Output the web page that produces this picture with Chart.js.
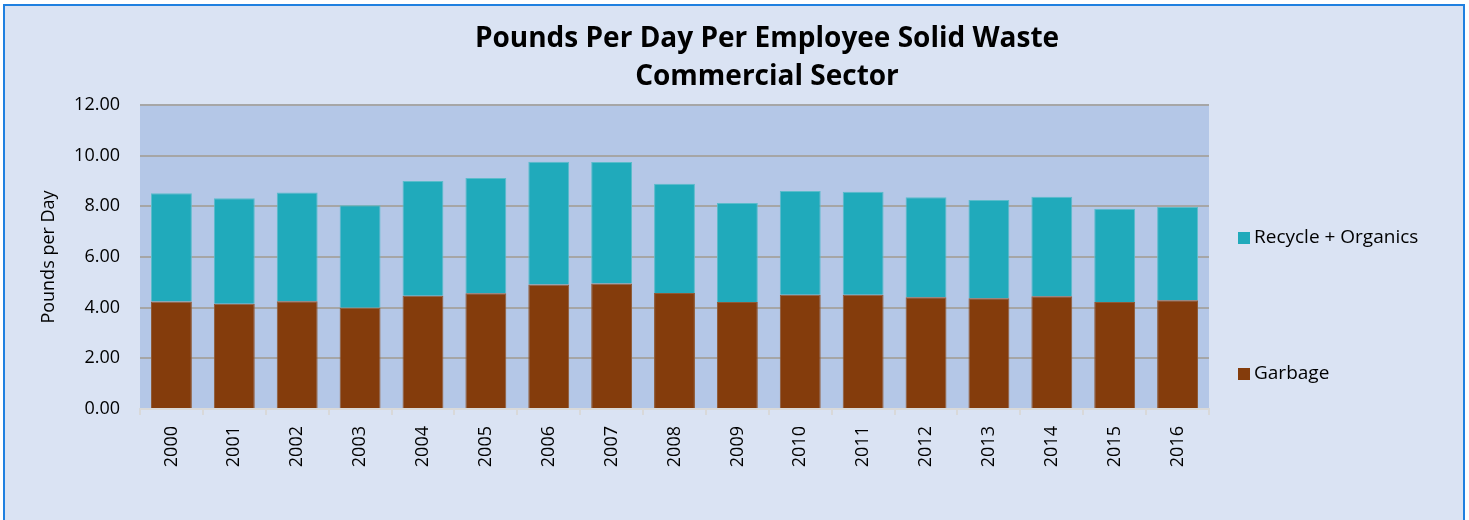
<!DOCTYPE html>
<html>
<head>
<meta charset="utf-8">
<script src="https://cdn.jsdelivr.net/npm/chart.js@4"></script>
<style>
    html, body { margin: 0; padding: 0; background: #ffffff; }
    #frame {
        position: absolute; left: 3px; top: 4px;
        width: 1458px; height: 520px;
        border: 2px solid #1f80e0; border-bottom: none;
        background: #dae3f3;
    }
    #frame canvas { display: block; }
</style>
</head>
<body>
<div id="frame"><canvas id="wasteChart" width="1458" height="520"></canvas></div>
<script>
// Chart data
const years = ['2000', '2001', '2002', '2003', '2004', '2005', '2006', '2007', '2008',
    '2009', '2010', '2011', '2012', '2013', '2014', '2015', '2016'];
const garbage = [4.24, 4.15, 4.25, 4.00, 4.47, 4.57, 4.91, 4.95, 4.58,
    4.22, 4.51, 4.51, 4.41, 4.37, 4.45, 4.22, 4.29];
const recycleOrganics = [4.28, 4.17, 4.30, 4.04, 4.53, 4.55, 4.85, 4.80, 4.31,
    3.91, 4.10, 4.07, 3.95, 3.88, 3.93, 3.68, 3.68];
const yTicks = [0, 2, 4, 6, 8, 10, 12];
const titleLines = ['Pounds Per Day Per Employee Solid Waste', 'Commercial Sector'];

const FONT = "'Open Sans', sans-serif";

// Plot background + title + legend drawn by hand to match the Excel layout
const excelLook = {
    id: 'excelLook',
    beforeDraw(chart) {
        const { ctx, chartArea } = chart;
        ctx.save();
        ctx.fillStyle = '#b4c7e7';
        ctx.fillRect(chartArea.left, chartArea.top, chartArea.right - chartArea.left, chartArea.bottom - chartArea.top);
        ctx.restore();
    },
    afterDraw(chart) {
        const { ctx } = chart;
        ctx.save();
        // title
        ctx.fillStyle = '#000000';
        ctx.textAlign = 'center';
        ctx.textBaseline = 'middle';
        ctx.font = `bold 28px ${FONT}`;
        const cx = chart.width / 2 + 33;
        titleLines.forEach((line, i) => ctx.fillText(line, cx, 33 + i * 38));

        // legend (series order reversed, like Excel)
        const legendY = [232, 368];
        const items = chart.data.datasets.slice().reverse();
        ctx.textAlign = 'left';
        ctx.font = `19px ${FONT}`;
        items.forEach((ds, i) => {
            ctx.fillStyle = ds.backgroundColor;
            ctx.fillRect(1233, legendY[i] - 6, 12, 12);
            ctx.fillStyle = '#000000';
            ctx.fillText(ds.label, 1249, legendY[i]);
        });
        ctx.restore();
    }
};

const ctx = document.getElementById('wasteChart').getContext('2d');
const chart = new Chart(ctx, {
    type: 'bar',
    data: {
        labels: years,
        datasets: [
            {
                label: 'Garbage',
                data: garbage,
                backgroundColor: '#843c0c',
                borderColor: '#8f5a36',
                borderWidth: 1
            },
            {
                label: 'Recycle + Organics',
                data: recycleOrganics,
                backgroundColor: '#20aabb',
                borderColor: '#5bbccb',
                borderWidth: 1
            }
        ]
    },
    options: {
        responsive: false,
        animation: false,
        devicePixelRatio: 1,
        layout: {
            padding: { left: 33, right: 254, top: 99, bottom: 0 }
        },
        datasets: {
            bar: { categoryPercentage: 1, barPercentage: 0.65 }
        },
        plugins: {
            legend: { display: false },
            title: { display: false },
            tooltip: { enabled: false }
        },
        scales: {
            x: {
                stacked: true,
                afterFit: scale => { scale.height = 117; },
                grid: {
                    display: true,
                    drawOnChartArea: false,
                    offset: true,
                    color: '#d9d9d9',
                    lineWidth: 2,
                    tickLength: 6
                },
                border: { color: '#d9d9d9', width: 2 },
                ticks: {
                    minRotation: 90,
                    maxRotation: 90,
                    padding: 11,
                    color: '#000000',
                    font: { family: FONT, size: 18 }
                }
            },
            y: {
                stacked: true,
                min: 0,
                max: 12,
                afterFit: scale => { scale.width = 102; },
                afterBuildTicks: scale => {
                    scale.ticks = yTicks.map(v => ({ value: v }));
                },
                grid: {
                    color: c => (c.tick && c.tick.value === 0) ? 'rgba(0,0,0,0)' : '#a6a6a6',
                    lineWidth: 2,
                    drawTicks: false
                },
                border: { display: false },
                ticks: {
                    padding: 20,
                    color: '#000000',
                    font: { family: FONT, size: 18 },
                    callback: value => value.toFixed(2)
                },
                title: {
                    display: true,
                    text: 'Pounds per Day',
                    color: '#000000',
                    font: { family: FONT, size: 18 },
                    padding: 0
                }
            }
        }
    },
    plugins: [excelLook]
});
</script>
</body>
</html>
